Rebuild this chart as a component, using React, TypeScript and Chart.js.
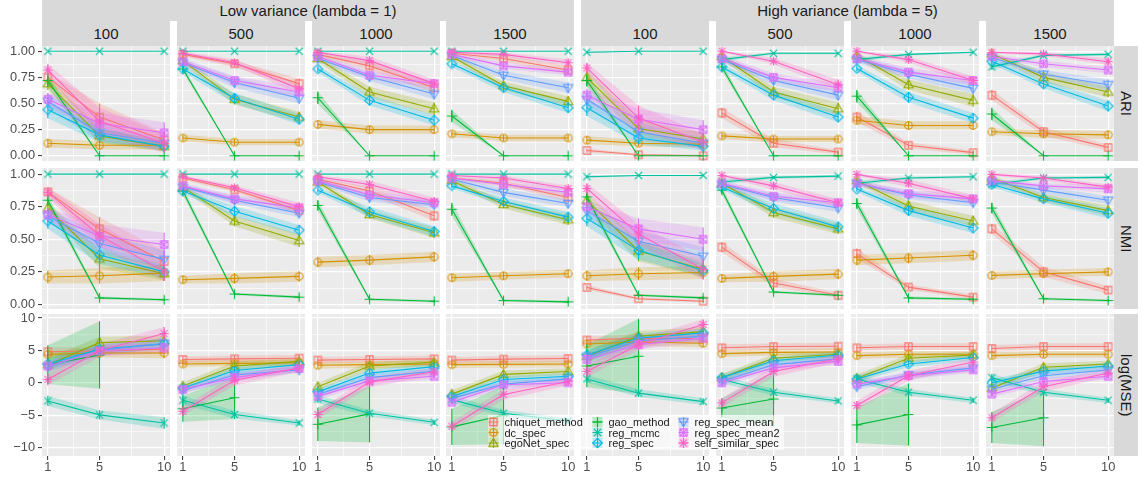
import React, { useEffect, useRef } from 'react';
import { Chart, registerables } from 'chart.js';
Chart.register(...registerables);

// ---------- categories / labels ----------
const methods = ['chiquet_method', 'dc_spec', 'egoNet_spec', 'gao_method', 'reg_mcmc', 'reg_spec', 'reg_spec_mean', 'reg_spec_mean2', 'self_similar_spec'];
const methodColors = ['#F8766D', '#D39200', '#93AA00', '#00BA38', '#00C19F', '#00B9E3', '#619CFF', '#DB72FB', '#FF61C3'];
const methodShapes = ['square', 'circle', 'triangle', 'plus', 'cross', 'diamond', 'triangleDown', 'squareCross', 'asterisk'];
const xValues = [1, 5, 10];
const xGrid = [1, 3, 5, 7.5, 10];
const sizeLabels = ['100', '500', '1000', '1500'];
const varianceLabels = ['Low variance (lambda = 1)', 'High variance (lambda = 5)'];
const metricLabels = ['ARI', 'NMI', 'log(MSE)'];
const unitTicks = [0, 0.25, 0.5, 0.75, 1];
const unitGrid = [0, 0.125, 0.25, 0.375, 0.5, 0.625, 0.75, 0.875, 1];
const mseTicks = [-10, -5, 0, 5, 10];
const mseGrid = [-10, -7.5, -5, -2.5, 0, 2.5, 5, 7.5, 10];

// Panels order in each array: L100, L500, L1000, L1500, H100, H500, H1000, H1500 (x = 1, 5, 10)
// ---------- ARI ----------
const ariChiquet = [0.75, 0.37, 0.15, 0.97, 0.88, 0.69, 0.97, 0.86, 0.65, 0.98, 0.93, 0.82, 0.05, 0.01, 0.0, 0.41, 0.12, 0.035, 0.37, 0.10, 0.03, 0.58, 0.23, 0.08];
const ariDc = [0.12, 0.10, 0.10, 0.17, 0.13, 0.13, 0.30, 0.25, 0.25, 0.21, 0.17, 0.17, 0.15, 0.12, 0.11, 0.19, 0.16, 0.16, 0.34, 0.29, 0.29, 0.23, 0.21, 0.20];
const ariEgonet = [0.69, 0.19, 0.09, 0.91, 0.54, 0.37, 0.93, 0.61, 0.45, 0.95, 0.67, 0.52, 0.75, 0.26, 0.16, 0.95, 0.61, 0.45, 0.96, 0.68, 0.53, 0.975, 0.75, 0.61];
const ariGao = [0.72, 0, 0, 0.83, 0, 0, 0.555, 0, 0, 0.38, 0, 0, 0.72, 0, 0, 0.85, 0, 0, 0.57, 0, 0, 0.40, 0, 0];
const ariMcmc = [1, 1, 1, 1, 1, 1, 1, 1, 1, 1, 1, 1, 0.99, 1, 1, 0.92, 0.98, 0.98, 0.92, 0.97, 0.99, 0.85, 0.96, 0.97];
const ariSpec = [0.44, 0.20, 0.09, 0.83, 0.55, 0.35, 0.83, 0.53, 0.34, 0.88, 0.65, 0.46, 0.46, 0.17, 0.09, 0.85, 0.58, 0.37, 0.835, 0.56, 0.36, 0.905, 0.686, 0.476];
const ariSpecMean = [0.52, 0.22, 0.12, 0.89, 0.70, 0.55, 0.93, 0.755, 0.59, 0.96, 0.77, 0.65, 0.54, 0.23, 0.12, 0.92, 0.72, 0.58, 0.92, 0.78, 0.645, 0.94, 0.78, 0.68];
const ariSpecMean2 = [0.54, 0.31, 0.22, 0.90, 0.72, 0.61, 0.95, 0.77, 0.69, 0.97, 0.86, 0.80, 0.58, 0.35, 0.25, 0.93, 0.75, 0.65, 0.93, 0.80, 0.72, 0.95, 0.88, 0.82];
const ariSelfSim = [0.82, 0.33, 0.12, 0.98, 0.89, 0.64, 0.99, 0.91, 0.69, 0.99, 0.97, 0.89, 0.84, 0.36, 0.13, 1.0, 0.905, 0.68, 1.0, 0.92, 0.72, 0.99, 0.975, 0.90];

const ariChiquetErr = [0.05, 0.13, 0.07, 0.02, 0.03, 0.05, 0.02, 0.04, 0.05, 0.01, 0.03, 0.04, 0.02, 0.01, 0.01, 0.05, 0.04, 0.02, 0.05, 0.03, 0.02, 0.05, 0.04, 0.03];
const ariDcErr = [0.04, 0.04, 0.04, 0.03, 0.03, 0.03, 0.04, 0.04, 0.04, 0.03, 0.03, 0.03, 0.04, 0.03, 0.03, 0.03, 0.03, 0.03, 0.04, 0.04, 0.04, 0.03, 0.04, 0.04];
const ariEgonetErr = [0.06, 0.07, 0.05, 0.03, 0.05, 0.05, 0.03, 0.05, 0.06, 0.03, 0.04, 0.05, 0.07, 0.08, 0.06, 0.03, 0.05, 0.06, 0.03, 0.05, 0.06, 0.02, 0.05, 0.05];
const ariGaoErr = [0.06, 0, 0, 0.03, 0, 0, 0.06, 0, 0, 0.06, 0, 0, 0.06, 0, 0, 0.04, 0, 0, 0.06, 0, 0, 0.06, 0, 0];
const ariMcmcErr = [0, 0, 0, 0, 0, 0, 0, 0, 0, 0, 0, 0, 0.01, 0, 0, 0.02, 0.01, 0.01, 0.02, 0.01, 0.01, 0.03, 0.01, 0.01];
const ariSpecErr = [0.08, 0.07, 0.04, 0.03, 0.05, 0.05, 0.03, 0.05, 0.05, 0.03, 0.04, 0.05, 0.08, 0.06, 0.04, 0.03, 0.05, 0.05, 0.03, 0.05, 0.05, 0.03, 0.04, 0.05];
const ariSpecMeanErr = [0.07, 0.08, 0.05, 0.03, 0.05, 0.05, 0.03, 0.04, 0.05, 0.02, 0.04, 0.05, 0.07, 0.08, 0.05, 0.03, 0.04, 0.05, 0.03, 0.04, 0.05, 0.02, 0.04, 0.05];
const ariSpecMean2Err = [0.06, 0.10, 0.10, 0.03, 0.04, 0.05, 0.02, 0.04, 0.04, 0.02, 0.03, 0.03, 0.06, 0.10, 0.09, 0.03, 0.04, 0.04, 0.03, 0.04, 0.04, 0.02, 0.03, 0.03];
const ariSelfSimErr = [0.06, 0.13, 0.09, 0.02, 0.03, 0.05, 0.01, 0.04, 0.04, 0.01, 0.02, 0.03, 0.05, 0.12, 0.08, 0.01, 0.03, 0.05, 0.01, 0.03, 0.04, 0.01, 0.02, 0.03];

// ---------- NMI ----------
const nmiChiquet = [0.864, 0.58, 0.33, 0.97, 0.88, 0.72, 0.96, 0.87, 0.68, 0.97, 0.93, 0.82, 0.13, 0.044, 0.025, 0.44, 0.165, 0.07, 0.39, 0.133, 0.056, 0.58, 0.25, 0.11];
const nmiDc = [0.21, 0.22, 0.24, 0.19, 0.20, 0.215, 0.325, 0.34, 0.365, 0.205, 0.22, 0.236, 0.22, 0.236, 0.245, 0.20, 0.215, 0.233, 0.34, 0.356, 0.377, 0.223, 0.236, 0.25];
const nmiEgonet = [0.74, 0.35, 0.236, 0.90, 0.64, 0.49, 0.94, 0.69, 0.55, 0.95, 0.767, 0.65, 0.80, 0.41, 0.27, 0.93, 0.705, 0.58, 0.95, 0.756, 0.64, 0.97, 0.82, 0.72];
const nmiGao = [0.80, 0.05, 0.036, 0.87, 0.08, 0.056, 0.76, 0.04, 0.025, 0.73, 0.03, 0.02, 0.825, 0.07, 0.05, 0.877, 0.095, 0.07, 0.775, 0.05, 0.04, 0.74, 0.044, 0.03];
const nmiMcmc = [1, 1, 1, 1, 1, 1, 1, 1, 1, 1, 1, 1, 0.98, 0.99, 0.99, 0.94, 0.975, 0.985, 0.93, 0.97, 0.98, 0.92, 0.97, 0.975];
const nmiSpec = [0.64, 0.38, 0.25, 0.87, 0.715, 0.57, 0.877, 0.71, 0.56, 0.91, 0.79, 0.67, 0.66, 0.415, 0.26, 0.90, 0.736, 0.595, 0.885, 0.72, 0.587, 0.92, 0.81, 0.70];
const nmiSpecMean = [0.68, 0.467, 0.346, 0.90, 0.80, 0.70, 0.94, 0.82, 0.765, 0.96, 0.86, 0.775, 0.72, 0.485, 0.37, 0.92, 0.82, 0.74, 0.93, 0.84, 0.78, 0.94, 0.877, 0.80];
const nmiSpecMean2 = [0.69, 0.525, 0.46, 0.91, 0.81, 0.74, 0.95, 0.84, 0.78, 0.97, 0.92, 0.86, 0.75, 0.58, 0.50, 0.93, 0.83, 0.78, 0.93, 0.85, 0.81, 0.95, 0.91, 0.887];
const nmiSelfSim = [0.86, 0.53, 0.25, 0.98, 0.895, 0.75, 0.98, 0.92, 0.79, 0.99, 0.97, 0.89, 0.89, 0.54, 0.27, 0.99, 0.91, 0.78, 0.998, 0.93, 0.81, 0.998, 0.97, 0.90];

const nmiChiquetErr = [0.03, 0.09, 0.08, 0.015, 0.02, 0.03, 0.015, 0.03, 0.04, 0.01, 0.02, 0.03, 0.02, 0.01, 0.01, 0.04, 0.03, 0.02, 0.04, 0.02, 0.02, 0.04, 0.04, 0.03];
const nmiDcErr = [0.05, 0.06, 0.06, 0.03, 0.04, 0.04, 0.04, 0.04, 0.04, 0.03, 0.03, 0.03, 0.04, 0.05, 0.05, 0.03, 0.04, 0.04, 0.04, 0.04, 0.04, 0.03, 0.03, 0.03];
const nmiEgonetErr = [0.04, 0.07, 0.05, 0.02, 0.04, 0.05, 0.02, 0.03, 0.04, 0.02, 0.03, 0.04, 0.05, 0.08, 0.06, 0.02, 0.04, 0.04, 0.02, 0.04, 0.04, 0.02, 0.03, 0.04];
const nmiGaoErr = [0.04, 0.01, 0.01, 0.03, 0.01, 0.01, 0.04, 0.01, 0.01, 0.05, 0.01, 0.01, 0.04, 0.01, 0.01, 0.03, 0.01, 0.01, 0.04, 0.01, 0.01, 0.04, 0.01, 0.01];
const nmiMcmcErr = [0, 0, 0, 0, 0, 0, 0, 0, 0, 0, 0, 0, 0.01, 0.005, 0.005, 0.02, 0.01, 0.01, 0.02, 0.01, 0.01, 0.02, 0.01, 0.01];
const nmiSpecErr = [0.06, 0.07, 0.05, 0.02, 0.04, 0.04, 0.02, 0.04, 0.04, 0.02, 0.03, 0.04, 0.06, 0.07, 0.05, 0.02, 0.04, 0.04, 0.02, 0.04, 0.04, 0.02, 0.03, 0.04];
const nmiSpecMeanErr = [0.05, 0.08, 0.07, 0.02, 0.03, 0.03, 0.02, 0.03, 0.03, 0.02, 0.03, 0.03, 0.05, 0.08, 0.07, 0.02, 0.03, 0.03, 0.02, 0.03, 0.03, 0.02, 0.03, 0.03];
const nmiSpecMean2Err = [0.05, 0.09, 0.09, 0.02, 0.03, 0.03, 0.02, 0.03, 0.03, 0.01, 0.02, 0.03, 0.05, 0.08, 0.09, 0.02, 0.03, 0.03, 0.02, 0.03, 0.03, 0.01, 0.02, 0.03];
const nmiSelfSimErr = [0.04, 0.09, 0.07, 0.01, 0.02, 0.03, 0.01, 0.03, 0.03, 0.01, 0.02, 0.02, 0.04, 0.08, 0.08, 0.01, 0.03, 0.03, 0.01, 0.03, 0.03, 0.01, 0.02, 0.02];

// ---------- log(MSE) ----------
const mseChiquet = [4.8, 4.9, 5.2, 3.6, 3.7, 3.8, 3.5, 3.6, 3.7, 3.5, 3.65, 3.75, 6.6, 6.9, 6.8, 5.4, 5.6, 5.65, 5.4, 5.6, 5.6, 5.3, 5.6, 5.6];
const mseDc = [4.4, 4.6, 4.6, 2.9, 3.0, 3.1, 2.7, 2.8, 2.9, 2.8, 2.85, 2.9, 6.0, 6.3, 6.1, 4.5, 4.7, 4.75, 4.2, 4.4, 4.4, 4.2, 4.4, 4.4];
const mseEgonet = [2.8, 6.2, 6.5, -0.5, 2.6, 3.3, -0.6, 2.6, 3.2, -1.75, 1.3, 1.75, 4.1, 7.2, 7.9, 0.8, 3.8, 4.4, 0.7, 3.8, 4.3, -0.8, 2.4, 2.9];
const mseGao = [2.8, 4.3, null, -4.0, -2.3, null, -6.4, -4.8, null, -6.8, -5.0, null, 2.6, 4.1, null, -3.9, -2.5, null, -6.5, -4.9, null, -6.9, -5.4, null];
const mseMcmc = [-2.8, -4.95, -6.2, -2.7, -4.9, -6.2, -2.5, -4.7, -6.1, -2.6, -4.7, -5.9, 0.6, -1.6, -2.9, 0.5, -1.45, -2.8, 0.6, -1.45, -2.7, 0.8, -1.45, -2.7];
const mseSpec = [2.9, 5.2, 6.0, -0.8, 1.9, 2.8, -1.4, 1.5, 2.5, -2.1, 0.5, 1.0, 4.3, 6.9, 7.7, 0.8, 3.4, 4.3, 0.6, 2.9, 3.9, 0.0, 1.8, 2.6];
const mseSpecMean = [2.5, 5.0, 6.1, -1.2, 1.2, 2.0, -1.8, 0.8, 1.8, -2.4, -0.2, 0.6, 4.0, 6.5, 7.2, 0.2, 2.8, 3.7, -0.6, 1.2, 2.3, -1.0, 1.1, 2.0];
const mseSpecMean2 = [2.6, 4.9, 5.4, -1.0, 0.8, 2.2, -2.1, 0.3, 1.0, -3.0, -0.3, 0.0, 3.6, 5.9, 6.9, 0.0, 2.3, 3.3, -0.2, 1.1, 2.0, -1.75, 0.2, 1.0];
const mseSelfSim = [0.5, 5.0, 7.6, -4.4, 0.4, 2.3, -4.9, 0.1, 1.7, -6.7, -1.8, 0.2, 1.75, 5.9, 9.0, -3.1, 1.75, 3.7, -3.5, 1.1, 3.2, -5.4, -0.6, 1.5];

const mseChiquetErr = [0.7, 0.6, 0.7, 0.5, 0.5, 0.5, 0.5, 0.5, 0.5, 0.5, 0.5, 0.5, 0.6, 0.6, 0.6, 0.5, 0.5, 0.5, 0.5, 0.5, 0.5, 0.5, 0.5, 0.5];
const mseDcErr = [0.6, 0.7, 0.8, 0.5, 0.5, 0.5, 0.5, 0.5, 0.5, 0.5, 0.5, 0.5, 0.6, 0.6, 0.6, 0.5, 0.5, 0.5, 0.5, 0.5, 0.5, 0.5, 0.5, 0.5];
const mseEgonetErr = [1.0, 0.9, 0.8, 0.6, 0.7, 0.5, 0.6, 0.6, 0.5, 0.6, 0.6, 0.5, 0.9, 0.8, 0.7, 0.6, 0.6, 0.5, 0.6, 0.6, 0.5, 0.6, 0.6, 0.5];
const mseGaoErr = [3.0, 5.2, 0, 2.0, 3.3, 0, 2.6, 4.4, 0, 2.8, 4.5, 0, 3.3, 5.8, 0, 1.5, 4.2, 0, 2.8, 4.8, 0, 2.4, 4.4, 0];
const mseMcmcErr = [0.8, 0.7, 0.9, 0.7, 0.6, 0.4, 0.6, 0.5, 0.4, 0.6, 0.5, 0.4, 0.6, 0.6, 0.5, 0.6, 0.5, 0.4, 0.6, 0.5, 0.4, 0.6, 0.5, 0.4];
const mseSpecErr = [0.8, 0.8, 0.8, 0.5, 0.6, 0.5, 0.5, 0.5, 0.5, 0.5, 0.5, 0.5, 0.8, 0.7, 0.7, 0.5, 0.5, 0.5, 0.5, 0.5, 0.5, 0.5, 0.5, 0.5];
const mseSpecMeanErr = [0.8, 0.8, 0.8, 0.5, 0.6, 0.5, 0.5, 0.5, 0.5, 0.5, 0.5, 0.5, 0.8, 0.7, 0.7, 0.5, 0.5, 0.5, 0.5, 0.5, 0.5, 0.5, 0.5, 0.5];
const mseSpecMean2Err = [0.8, 0.8, 0.8, 0.5, 0.6, 0.5, 0.5, 0.5, 0.5, 0.5, 0.5, 0.5, 0.8, 0.7, 0.7, 0.5, 0.5, 0.5, 0.5, 0.5, 0.5, 0.5, 0.5, 0.5];
const mseSelfSimErr = [0.9, 1.0, 1.0, 0.7, 0.8, 0.6, 0.7, 0.8, 0.6, 0.7, 0.8, 0.6, 0.9, 0.9, 0.8, 0.7, 0.8, 0.6, 0.7, 0.8, 0.6, 0.7, 0.8, 0.6];

const ariMeans = [ariChiquet, ariDc, ariEgonet, ariGao, ariMcmc, ariSpec, ariSpecMean, ariSpecMean2, ariSelfSim];
const ariErrs = [ariChiquetErr, ariDcErr, ariEgonetErr, ariGaoErr, ariMcmcErr, ariSpecErr, ariSpecMeanErr, ariSpecMean2Err, ariSelfSimErr];
const nmiMeans = [nmiChiquet, nmiDc, nmiEgonet, nmiGao, nmiMcmc, nmiSpec, nmiSpecMean, nmiSpecMean2, nmiSelfSim];
const nmiErrs = [nmiChiquetErr, nmiDcErr, nmiEgonetErr, nmiGaoErr, nmiMcmcErr, nmiSpecErr, nmiSpecMeanErr, nmiSpecMean2Err, nmiSelfSimErr];
const mseMeans = [mseChiquet, mseDc, mseEgonet, mseGao, mseMcmc, mseSpec, mseSpecMean, mseSpecMean2, mseSelfSim];
const mseErrs = [mseChiquetErr, mseDcErr, mseEgonetErr, mseGaoErr, mseMcmcErr, mseSpecErr, mseSpecMeanErr, mseSpecMean2Err, mseSelfSimErr];
const metricMeans = [ariMeans, nmiMeans, mseMeans];
const metricErrs = [ariErrs, nmiErrs, mseErrs];

// ---------- layout / style ----------
const FONT = '"Liberation Sans", Arial, Helvetica, sans-serif';
const COL_LEFT = [42, 177, 312, 446, 581, 716, 851, 986];
const PANEL_W = 128;
const ROW_TOP = [46, 168, 314];
const ROW_H = [115, 141, 142];
const Y_RANGE = [[-0.05, 1.05], [-0.035, 1.047], [-11.3, 10.62]];
const M = 6;
const AXIS_W = 42;
const AXIS_H = 22;

function withAlpha(hex: string, a: number) {
  const r = parseInt(hex.slice(1, 3), 16), g = parseInt(hex.slice(3, 5), 16), b = parseInt(hex.slice(5, 7), 16);
  return `rgba(${r},${g},${b},${a})`;
}

function drawShape(g: CanvasRenderingContext2D, shape: string, cx: number, cy: number, color: string) {
  g.strokeStyle = color;
  g.lineWidth = 1.1;
  g.beginPath();
  switch (shape) {
    case 'square':
      g.rect(cx - 3.6, cy - 3.6, 7.2, 7.2);
      break;
    case 'circle':
      g.arc(cx, cy, 3.8, 0, Math.PI * 2);
      break;
    case 'triangle':
      g.moveTo(cx, cy - 4.8); g.lineTo(cx + 4.6, cy + 3.2); g.lineTo(cx - 4.6, cy + 3.2); g.closePath();
      break;
    case 'triangleDown':
      g.moveTo(cx, cy + 4.8); g.lineTo(cx + 4.6, cy - 3.2); g.lineTo(cx - 4.6, cy - 3.2); g.closePath();
      break;
    case 'plus':
      g.moveTo(cx - 5, cy); g.lineTo(cx + 5, cy); g.moveTo(cx, cy - 5); g.lineTo(cx, cy + 5);
      break;
    case 'cross': {
      const d = 3.6;
      g.moveTo(cx - d, cy - d); g.lineTo(cx + d, cy + d); g.moveTo(cx - d, cy + d); g.lineTo(cx + d, cy - d);
      break;
    }
    case 'diamond':
      g.moveTo(cx, cy - 4.8); g.lineTo(cx + 4.8, cy); g.lineTo(cx, cy + 4.8); g.lineTo(cx - 4.8, cy); g.closePath();
      break;
    case 'squareCross':
      g.rect(cx - 3.6, cy - 3.6, 7.2, 7.2);
      g.moveTo(cx - 3.6, cy - 3.6); g.lineTo(cx + 3.6, cy + 3.6); g.moveTo(cx - 3.6, cy + 3.6); g.lineTo(cx + 3.6, cy - 3.6);
      break;
    case 'asterisk': {
      const d = 3.3;
      g.moveTo(cx - 4.6, cy); g.lineTo(cx + 4.6, cy); g.moveTo(cx, cy - 4.6); g.lineTo(cx, cy + 4.6);
      g.moveTo(cx - d, cy - d); g.lineTo(cx + d, cy + d); g.moveTo(cx - d, cy + d); g.lineTo(cx + d, cy - d);
      break;
    }
  }
  g.stroke();
}

const shapeCache = new Map<string, HTMLCanvasElement>();
function shapeCanvas(shape: string, color: string) {
  const key = shape + color;
  if (shapeCache.has(key)) return shapeCache.get(key)!;
  const c = document.createElement('canvas');
  c.width = 13; c.height = 13;
  const g = c.getContext('2d')!;
  drawShape(g, shape, 6.5, 6.5, color);
  shapeCache.set(key, c);
  return c;
}

const panelBg = {
  id: 'panelBg',
  beforeDraw(chart: any) {
    const { ctx, chartArea: a } = chart;
    ctx.save();
    ctx.fillStyle = '#EBEBEB';
    ctx.fillRect(a.left, a.top, a.right - a.left, a.bottom - a.top);
    ctx.restore();
  },
};

const errorBars = {
  id: 'errorBars',
  afterDatasetsDraw(chart: any) {
    const { ctx, chartArea: a } = chart;
    const xs = chart.scales.x, ys = chart.scales.y;
    ctx.save();
    ctx.beginPath();
    ctx.rect(a.left, a.top, a.right - a.left, a.bottom - a.top);
    ctx.clip();
    ctx.lineWidth = 1.1;
    chart.data.datasets.forEach((ds: any) => {
      if (!ds.errLo) return;
      ctx.strokeStyle = ds.borderColor;
      ds.data.forEach((p: any, i: number) => {
        if (p.y == null || ds.errLo[i] == null) return;
        const px = xs.getPixelForValue(p.x);
        ctx.beginPath();
        ctx.moveTo(px, ys.getPixelForValue(ds.errLo[i]));
        ctx.lineTo(px, ys.getPixelForValue(ds.errHi[i]));
        ctx.stroke();
      });
    });
    ctx.restore();
  },
};

function zeroPad(s: any) {
  s.paddingLeft = 0; s.paddingRight = 0; s.paddingTop = 0; s.paddingBottom = 0;
}

function Panel({ row, col }: { row: number; col: number }) {
  const ref = useRef<HTMLCanvasElement>(null);
  const isLeft = col === 0;
  const isBottom = row === 2;
  const left = isLeft ? COL_LEFT[0] - AXIS_W : COL_LEFT[col] - M;
  const top = ROW_TOP[row] - M;
  const width = (isLeft ? AXIS_W : M) + PANEL_W + M;
  const height = M + ROW_H[row] + (isBottom ? AXIS_H : M);

  useEffect(() => {
    const means = metricMeans[row];
    const errs = metricErrs[row];
    const datasets: any[] = [];
    methods.forEach((name, m) => {
      const mean = means[m].slice(col * 3, col * 3 + 3);
      const err = errs[m].slice(col * 3, col * 3 + 3);
      const lo = mean.map((v: any, i: number) => (v == null ? null : v - err[i]));
      const hi = mean.map((v: any, i: number) => (v == null ? null : v + err[i]));
      const pts = (arr: any[]) => xValues.map((x, i) => ({ x, y: arr[i] }));
      datasets.push({
        label: name + '_lo', data: pts(lo), borderWidth: 0, borderColor: 'rgba(0,0,0,0)',
        pointRadius: 0, fill: false, order: 100 + (8 - m),
      });
      datasets.push({
        label: name + '_hi', data: pts(hi), borderWidth: 0, borderColor: 'rgba(0,0,0,0)',
        pointRadius: 0, fill: '-1', backgroundColor: withAlpha(methodColors[m], 0.22), order: 100 + (8 - m),
      });
      datasets.push({
        label: name, data: pts(mean), borderColor: methodColors[m], backgroundColor: methodColors[m],
        borderWidth: 1.1, pointStyle: shapeCanvas(methodShapes[m], methodColors[m]), pointRadius: 4,
        fill: false, order: 8 - m, errLo: lo, errHi: hi, tension: 0,
      });
    });

    const yMajor = row === 2 ? mseTicks : unitTicks;
    const yGrid = row === 2 ? mseGrid : unitGrid;
    const yLabel = (v: number) => {
      if (!yMajor.includes(v)) return '';
      if (row === 2) return v < 0 ? '\u2212' + Math.abs(v) : String(v);
      return v.toFixed(2);
    };

    const chart = new Chart(ref.current!, {
      type: 'line',
      data: { datasets },
      plugins: [panelBg, errorBars],
      options: {
        animation: false,
        responsive: false,
        events: [],
        layout: { padding: { top: M, right: M, bottom: isBottom ? 0 : M, left: isLeft ? 0 : M } },
        plugins: { legend: { display: false }, tooltip: { enabled: false } },
        scales: {
          x: {
            type: 'linear', min: 0.55, max: 10.45, bounds: 'data',
            afterBuildTicks: (s: any) => { s.ticks = xGrid.map((v) => ({ value: v })); },
            afterFit: (s: any) => { s.height = isBottom ? AXIS_H : 0; zeroPad(s); },
            border: { display: false },
            grid: {
              color: '#FFFFFF',
              lineWidth: (c: any) => (c.tick && xValues.includes(c.tick.value) ? 1.2 : 0.6),
              drawTicks: isBottom,
              tickLength: 4,
              tickWidth: 1,
              tickColor: (c: any) => (c.tick && xValues.includes(c.tick.value) ? '#333333' : 'rgba(0,0,0,0)'),
            },
            ticks: {
              display: isBottom, autoSkip: false, maxRotation: 0, minRotation: 0, padding: 0,
              color: '#4D4D4D', font: { family: FONT, size: 12.8 },
              callback: (v: any) => (xValues.includes(v) ? String(v) : ''),
            },
          },
          y: {
            type: 'linear', min: Y_RANGE[row][0], max: Y_RANGE[row][1], bounds: 'data',
            afterBuildTicks: (s: any) => { s.ticks = yGrid.map((v) => ({ value: v })); },
            afterFit: (s: any) => { s.width = isLeft ? AXIS_W : 0; zeroPad(s); },
            border: { display: false },
            grid: {
              color: '#FFFFFF',
              lineWidth: (c: any) => (c.tick && yMajor.includes(c.tick.value) ? 1.2 : 0.6),
              drawTicks: isLeft,
              tickLength: 4,
              tickWidth: 1,
              tickColor: (c: any) => (c.tick && yMajor.includes(c.tick.value) ? '#333333' : 'rgba(0,0,0,0)'),
            },
            ticks: {
              display: isLeft, autoSkip: false, padding: 3,
              color: '#4D4D4D', font: { family: FONT, size: 12.8 },
              callback: (v: any) => yLabel(v),
            },
          },
        },
      } as any,
    } as any);
    return () => chart.destroy();
  }, [row, col]);

  return (
    <canvas
      ref={ref}
      width={width}
      height={height}
      style={{ position: 'absolute', left, top, width, height, display: 'block' }}
    />
  );
}

function LegendKeys() {
  const ref = useRef<HTMLCanvasElement>(null);
  useEffect(() => {
    const c = ref.current!;
    const g = c.getContext('2d')!;
    g.clearRect(0, 0, c.width, c.height);
    methods.forEach((_, m) => {
      const colIdx = Math.floor(m / 3), rowIdx = m % 3;
      const cx = LEGEND_KEY_X[colIdx], cy = LEGEND_ROW_Y[rowIdx];
      const col = methodColors[m];
      g.fillStyle = withAlpha(col, 0.25);
      g.fillRect(cx - 5, cy - 5, 10, 10);
      g.strokeStyle = col;
      g.lineWidth = 1.1;
      g.beginPath();
      g.moveTo(cx - 5, cy); g.lineTo(cx + 5, cy);
      g.moveTo(cx, cy - 5); g.lineTo(cx, cy + 5);
      g.stroke();
      drawShape(g, methodShapes[m], cx, cy, col);
    });
  }, []);
  return <canvas ref={ref} width={296} height={35} style={{ position: 'absolute', left: 0, top: 0, width: 296, height: 35 }} />;
}

const LEGEND_KEY_X = [5.5, 109.5, 195.5];
const LEGEND_ROW_Y = [7, 17.5, 28];

function Legend() {
  return (
    <div style={{ position: 'absolute', left: 488, top: 415, width: 296, height: 35, background: 'rgba(255,255,255,0.6)' }}>
      <LegendKeys />
      {methods.map((name, m) => {
        const colIdx = Math.floor(m / 3), rowIdx = m % 3;
        return (
          <div
            key={name}
            style={{
              position: 'absolute', left: LEGEND_KEY_X[colIdx] + 11, top: LEGEND_ROW_Y[rowIdx] - 7,
              height: 14, lineHeight: '14px', fontSize: 11, fontFamily: FONT, color: '#1A1A1A', whiteSpace: 'nowrap',
            }}
          >
            {name}
          </div>
        );
      })}
    </div>
  );
}

const stripText: React.CSSProperties = {
  position: 'absolute', background: '#D9D9D9', color: '#1A1A1A', fontFamily: FONT, fontSize: 15,
  display: 'flex', alignItems: 'center', justifyContent: 'center', whiteSpace: 'nowrap', overflow: 'hidden',
};

export default function App() {
  const panels: any[] = [];
  for (let r = 0; r < 3; r++) for (let c = 0; c < 8; c++) panels.push(<Panel key={`${r}-${c}`} row={r} col={c} />);
  return (
    <div style={{ position: 'absolute', left: 0, top: 0, width: 1148, height: 478, background: '#FFFFFF', overflow: 'hidden' }}>
      {varianceLabels.map((lab, i) => (
        <div key={lab} style={{ ...stripText, left: COL_LEFT[i * 4], top: 0, width: COL_LEFT[i * 4 + 3] + PANEL_W - COL_LEFT[i * 4], height: 21 }}>
          {lab}
        </div>
      ))}
      {COL_LEFT.map((x, c) => (
        <div key={'s' + c} style={{ ...stripText, left: x, top: 21, width: PANEL_W, height: 25 }}>
          {sizeLabels[c % 4]}
        </div>
      ))}
      {metricLabels.map((lab, r) => (
        <div key={lab} style={{ ...stripText, left: COL_LEFT[7] + PANEL_W, top: ROW_TOP[r], width: 24, height: ROW_H[r] }}>
          <span style={{ writingMode: 'vertical-rl' }}>{lab}</span>
        </div>
      ))}
      {panels}
      <Legend />
    </div>
  );
}
